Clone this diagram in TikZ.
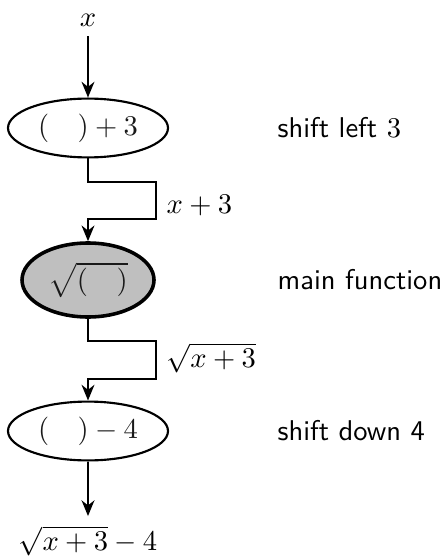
\documentclass[tikz,border=0pt]{standalone}
\usetikzlibrary{arrows.meta,shapes.geometric}
\begin{document}
\begin{tikzpicture}[x=0.35pt,y=-0.35pt,
  flow/.style={line width=0.75pt,-{Stealth[length=5.5pt,width=4.5pt]}},
  opnode/.style={ellipse,draw,line width=0.75pt,minimum width=56pt,minimum height=20.6pt,inner sep=0pt,text=black!90},
  mainnode/.style={ellipse,draw,line width=1.25pt,fill=black!25,minimum width=46.2pt,minimum height=25.9pt,inner sep=0pt,text=black!90},
  note/.style={anchor=west,inner sep=0pt},
  lab/.style={anchor=west,inner sep=0pt}]
\useasboundingbox (0,0) rectangle (445,559);

% input and the three stages
\node (in) at (88,20) {$x$};
\node[opnode] (e1) at (88,128) {$(\quad)+3$};
\node[mainnode] (e2) at (88,280) {$\sqrt{(\quad)}$};
\node[opnode] (e3) at (88,431) {$(\quad)-4$};
\node (out) at (88,541) {$\sqrt{x+3}-4$};

% descriptions
\node[note] (d1) at (277,128) {\textsf{shift left} $3$};
\node[note] (d2) at (277,280) {\textsf{main function}};
\node[note] (d3) at (277,431) {\textsf{shift down 4}};

% bends between stages
\coordinate (a1) at (156,182);
\coordinate (a2) at (156,219);
\coordinate (b1) at (156,341);
\coordinate (b2) at (156,379);

\draw[flow] (in) -- (e1);
\draw[flow] (e1.south) |- (a1) -- (a2) -| (e2.north);
\draw[flow] (e2.south) |- (b1) -- (b2) -| (e3.north);
\draw[flow] (e3) -- (out);

% intermediate results
\node[lab] (r1) at (166,205) {$x+3$};
\node[lab] (r2) at (166,358) {$\sqrt{x+3}$};
\end{tikzpicture}
\end{document}
